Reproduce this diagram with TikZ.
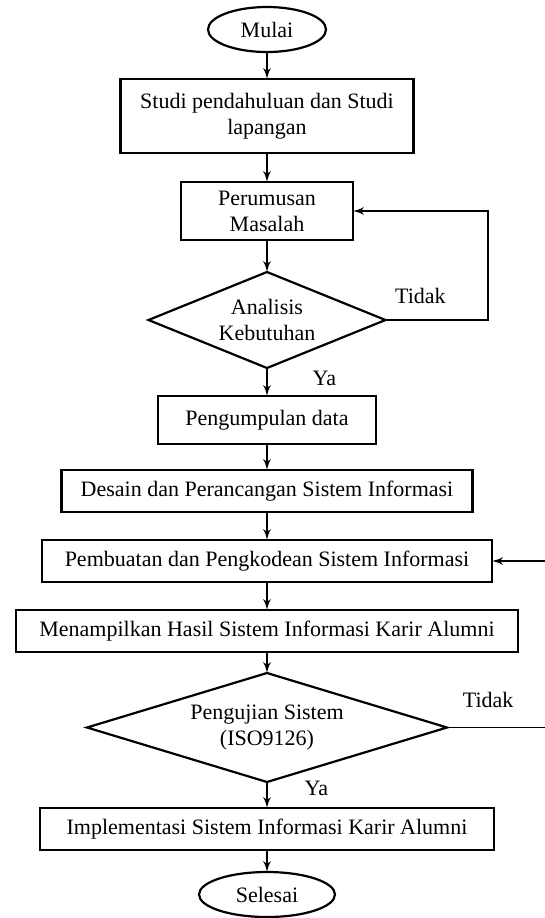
\documentclass[tikz,border=0pt]{standalone}
\usepackage{fontspec}
\setmainfont{Liberation Serif}
\usetikzlibrary{arrows,shapes.geometric,positioning}

\begin{document}
\begin{tikzpicture}[>=latex', auto, node distance=14pt,
	every node/.style={font=\fontsize{11}{13}\selectfont},
	proses/.style={draw, line width=1.1pt, rectangle, align=center, inner sep=0pt, outer sep=0pt, minimum height=21pt},
	terminal/.style={draw, line width=1.1pt, ellipse, inner sep=0pt, outer sep=0pt, minimum width=59pt, minimum height=22.5pt},
	keputusan/.style={draw, line width=1.1pt, diamond, align=center, inner sep=0pt, outer sep=0pt},
	alur/.style={->, line width=0.9pt}]
	\useasboundingbox (0,0) rectangle (272.5pt,-459pt);

	% Nodes {mulai, studi, rumusan, ..., selesai}
	\node [terminal] 	(mulai) at (133.5pt,-14.75pt) {Mulai};
	\node [proses, minimum width=146.5pt, minimum height=37pt]	(studi) 	[below=13.5pt of mulai] 	{Studi pendahuluan dan Studi\\lapangan};
	\node [proses, minimum width=86pt, minimum height=29pt]		(rumusan) 	[below=14.5pt of studi] 	{Perumusan\\Masalah};
	\node [keputusan, shape aspect=2.5, minimum width=118.5pt, minimum height=48pt]	(analisis) 	[below=16pt of rumusan] 	{Analisis\\Kebutuhan};
	\node [proses, minimum width=109pt, minimum height=24pt]		(kumpul) 	[below=14pt of analisis] 	{Pengumpulan data};
	\node [proses, minimum width=205.5pt]	(desain) 	[below=13pt of kumpul] 	{Desain dan Perancangan Sistem Informasi};
	\node [proses, minimum width=225pt]		(kode) 		[below=14pt of desain] 	{Pembuatan dan Pengkodean Sistem Informasi};
	\node [proses, minimum width=251pt]		(tampil) 	[below=14pt of kode] 	{Menampilkan Hasil Sistem Informasi Karir Alumni};
	\node [keputusan, shape aspect=3.3, minimum width=180pt, minimum height=54.5pt]	(uji) 	[below=10.5pt of tampil] 	{Pengujian Sistem\\(ISO9126)};
	\node [proses, minimum width=227pt]		(implementasi) 	[below=13pt of uji] 	{Implementasi Sistem Informasi Karir Alumni};
	\node [terminal, minimum width=68pt]	(selesai) 	[below=11pt of implementasi] 	{Selesai};
	\coordinate (tepi) at (272.5pt,0);

	% Paths
	\path [alur] 	(mulai) edge 		(studi);
	\path [alur] 	(studi) edge 		(rumusan);
	\path [alur] 	(rumusan) edge 		(analisis);
	\path [alur] 	(analisis) edge 	node [right=19pt, pos=0.36] {Ya} 	(kumpul);
	\path [alur] 	(kumpul) edge 		(desain);
	\path [alur] 	(desain) edge 		(kode);
	\path [alur] 	(kode) edge 		(tampil);
	\path [alur] 	(tampil) edge 		(uji);
	\path [alur] 	(uji) edge 		node [right=15pt, pos=0.23] {Ya} 	(implementasi);
	\path [alur] 	(implementasi) edge 	(selesai);

	% Tidak
	\draw [alur] (analisis.east) -- node [above=4.5pt, pos=0.34] {Tidak} ++(51.25pt,0) |- (rumusan.east);
	\draw [line width=0.9pt] (uji.east) -- node [above=6pt, pos=0.42] {Tidak} (uji.east -| tepi);
	\draw [alur] (kode.east -| tepi) -- (kode.east);

\end{tikzpicture}
\end{document}
